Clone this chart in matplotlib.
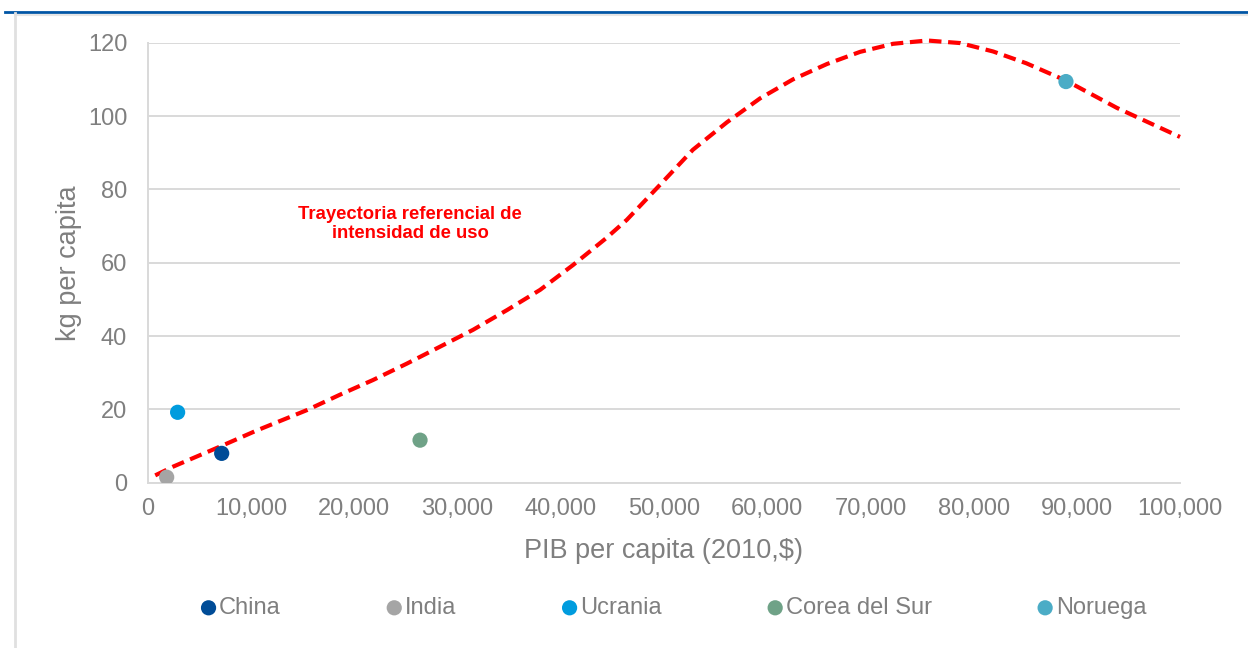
import matplotlib.pyplot as plt
from matplotlib.lines import Line2D
from matplotlib.ticker import FuncFormatter

# reference trajectory
curve_x = [700, 2450, 7100, 10500, 15400, 18600, 21800, 25100, 28300, 31500,
           34800, 38000, 41200, 44400, 46400, 49600, 52800, 56100, 59300,
           62500, 65800, 69000, 72200, 75500, 78700, 81900, 85100, 89000,
           93900, 100000]
curve_y = [2.0, 4.4, 10.0, 14.2, 19.8, 24.0, 28.0, 32.5, 37.1, 41.7,
           47.1, 52.6, 59.4, 66.7, 71.7, 81.2, 90.8, 98.3, 104.8,
           110.0, 114.2, 117.5, 119.7, 120.6, 119.9, 117.6, 114.4, 109.6,
           102.2, 94.3]

countries = ['China', 'India', 'Ucrania', 'Corea del Sur', 'Noruega']
gdp = [7140, 1810, 2870, 26360, 88950]
kg = [8.0, 1.5, 19.2, 11.6, 109.4]
colors = ['#004C97', '#A5A5A5', '#009CDE', '#6FA287', '#4BACC6']

plt.rcParams['font.family'] = ['Liberation Sans', 'DejaVu Sans']
txt_col = '#7F7F7F'
grid_col = '#D9D9D9'

fig = plt.figure(figsize=(12.48, 6.48), dpi=100)
ax = fig.add_axes([148 / 1248, 1 - 482.7 / 648, 1032 / 1248, 440 / 648])

ax.plot(curve_x, curve_y, color='#FF0000', lw=3, linestyle=(0, (3, 1.6)),
        zorder=2, clip_on=False)
for name, x, y, c in zip(countries, gdp, kg, colors):
    ax.scatter(x, y, s=120, color=c, label=name, zorder=3, edgecolors='none')

ax.text(25400, 70.6, 'Trayectoria referencial de\nintensidad de uso', color='#FF0000',
        fontsize=13.3, fontweight='bold', ha='center', va='center', linespacing=1.2)

ax.set_xlim(0, 100000)
ax.set_ylim(0, 120)
ax.set_xticks(range(0, 100001, 10000))
ax.set_yticks(range(0, 121, 20))
ax.xaxis.set_major_formatter(FuncFormatter(lambda v, p: f'{int(v):,}'))
ax.tick_params(length=0, labelsize=17, colors=txt_col)
ax.tick_params(axis='y', pad=15)
ax.tick_params(axis='x', pad=11)
ax.grid(axis='y', color=grid_col, lw=1.4)
ax.set_axisbelow(True)
for s in ['top', 'right']:
    ax.spines[s].set_visible(False)
for s in ['left', 'bottom']:
    ax.spines[s].set_color(grid_col)
    ax.spines[s].set_linewidth(1.4)

ax.set_xlabel('PIB per capita (2010,$)', fontsize=19.5, color=txt_col, labelpad=13)
ax.set_ylabel('kg per capita', fontsize=19.5, color=txt_col, labelpad=4)

fig.legend(loc='center', bbox_to_anchor=(0.539, 1 - 608 / 648), ncol=5, frameon=False,
           fontsize=17, labelcolor=txt_col, handletextpad=0.05, columnspacing=4.4,
           markerscale=1.0, handlelength=0.8, borderaxespad=0)

# frame lines around the figure block
fig.add_artist(Line2D([5 / 1248, 1], [1 - 12 / 648] * 2, color='#0055A5', lw=2,
                      transform=fig.transFigure))
fig.add_artist(Line2D([15 / 1248, 1], [1 - 14.5 / 648] * 2, color='#E6E6E6', lw=1.5,
                      transform=fig.transFigure))
fig.add_artist(Line2D([15 / 1248] * 2, [0, 1 - 13 / 648], color='#E0E0E0', lw=2,
                      transform=fig.transFigure))

fig.savefig('out.png', dpi=100)
